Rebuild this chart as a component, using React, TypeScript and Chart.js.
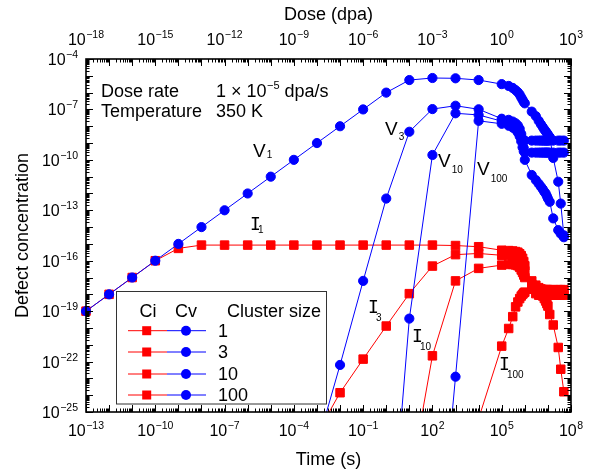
import React, { useEffect, useRef } from "react";
import { Chart, registerables } from "chart.js";

Chart.register(...registerables);

// ---------- data ----------
const TIME_S = [
  1e-13, 1e-12, 1e-11, 1e-10, 1e-9, 1e-8, 1e-7, 1e-6, 1e-5, 1e-4, 1e-3, 1e-2, 1e-1, 1e0, 1e1, 1e2, 1e3, 1e4,
  1e5, 2e5, 3e5, 4e5, 5e5, 6e5, 7e5, 8e5, 9e5, 1e6,
  2e6, 3e6, 4e6, 5e6, 6e6, 7e6, 8e6, 9e6, 1e7, 1.2e7,
  1.7e7, 2.8e7, 3.6e7, 4.9e7,
];

const CV1 = [
  1e-19, 1e-18, 1e-17, 1e-16, 1e-15, 1e-14, 1e-13, 1e-12, 1e-11, 1e-10, 1e-9, 1e-8, 1e-7, 1e-6, 5.6e-6, 7.4e-6, 7.1e-6, 5.6e-6,
  3.2e-6, 2.5e-6, 1.9e-6, 1.4e-6, 1.05e-6, 7.6e-7, 5.2e-7, 3.8e-7, 2.8e-7, 2.3e-7,
  7.4e-8, 4.0e-8, 2.1e-8, 1.3e-8, 8.9e-9, 6.3e-9, 5.0e-9, 4.0e-9, 3.2e-9, 2.3e-9,
  1.3e-10, 5.0e-12, 2.5e-13, 3.2e-15,
];
const CV3 = [
  null, null, null, null, null, null, null, null, null, null, 1e-27, 6.3e-23, 6.3e-18, 5.0e-13, 4.7e-9, 1.05e-7, 1.66e-7, 1.02e-7,
  2.8e-8, 2.4e-8, 1.9e-8, 1.5e-8, 1.1e-8, 7.1e-9, 3.5e-9, 1.6e-9, 5.0e-10, 1.0e-10,
  1.26e-11, 6.3e-12, 3.8e-12, 2.5e-12, 1.8e-12, 1.26e-12, 1.0e-12, 7.1e-13, 5.0e-13, 3.2e-13,
  3.3e-14, 6.6e-15, 4.0e-15, 2.5e-15,
];
const CV10 = [
  null, null, null, null, null, null, null, null, null, null, null, null, null, 6e-37, 3.6e-20, 1.95e-10, 5.9e-8, 4.7e-8,
  2.0e-8, 1.6e-8, 1.26e-8, 1.0e-8, 7.1e-9, 4.5e-9, 2.5e-9, 1.6e-9, 1.4e-9, 1.4e-9,
  1.4e-9, 1.4e-9, 1.4e-9, 1.4e-9, 1.4e-9, 1.4e-9, 1.4e-9, 1.4e-9, 1.4e-9, 1.4e-9,
  1.4e-9, 1.4e-9, 1.4e-9, 1.4e-9,
];
const CV100 = [
  null, null, null, null, null, null, null, null, null, null, null, null, null, null, null, 1.3e-38, 1.26e-23, 2.1e-8,
  1.4e-8, 1.07e-8, 8.3e-9, 6.3e-9, 4.2e-9, 2.5e-9, 1.26e-9, 5.6e-10, 3.2e-10, 2.7e-10,
  2.7e-10, 2.7e-10, 2.7e-10, 2.7e-10, 2.7e-10, 2.7e-10, 2.7e-10, 2.7e-10, 2.7e-10, 2.7e-10,
  2.7e-10, 2.7e-10, 2.7e-10, 2.7e-10,
];
const CI1 = [
  1e-19, 1e-18, 1e-17, 1e-16, 5.4e-16, 8.5e-16, 8.5e-16, 8.5e-16, 8.5e-16, 8.5e-16, 8.5e-16, 8.5e-16, 8.5e-16, 8.5e-16, 8.5e-16, 8.5e-16, 8.0e-16, 6.8e-16,
  4.2e-16, 4.0e-16, 3.8e-16, 3.5e-16, 3.2e-16, 2.6e-16, 2.0e-16, 1.4e-16, 8.9e-17, 5.0e-17,
  6.3e-18, 3.5e-18, 2.5e-18, 2.1e-18, 1.9e-18, 1.9e-18, 1.9e-18, 1.9e-18, 1.9e-18, 1.9e-18,
  1.9e-18, 1.9e-18, 1.9e-18, 1.9e-18,
];
const CI3 = [
  null, null, null, null, null, null, null, null, null, null, 5.0e-27, 1.4e-24, 1.4e-22, 1.3e-20, 1.1e-18, 4.8e-17, 2.3e-16, 2.7e-16,
  2.1e-16, 2.0e-16, 1.9e-16, 1.8e-16, 1.6e-16, 1.3e-16, 1.0e-16, 7.1e-17, 4.5e-17, 2.5e-17,
  4.0e-18, 2.0e-18, 1.4e-18, 1.1e-18, 7.9e-19, 5.6e-19, 4.0e-19, 2.8e-19, 2.0e-19, 6.3e-20,
  1.5e-20, 6.9e-22, 3.5e-23, 1.6e-24,
];
const CI10 = [
  null, null, null, null, null, null, null, null, null, null, null, null, null, null, 4.0e-30, 2.2e-22, 6.3e-18, 3.5e-17,
  5.5e-17, 6.0e-17, 6.0e-17, 5.6e-17, 5.0e-17, 4.0e-17, 2.8e-17, 2.0e-17, 1.4e-17, 1.0e-17,
  2.0e-18, 1.1e-18, 8.9e-19, 8.9e-19, 8.9e-19, 8.9e-19, 8.9e-19, 8.9e-19, 8.9e-19, 8.9e-19,
  8.9e-19, 8.9e-19, 8.9e-19, 8.9e-19,
];
const CI100 = [
  null, null, null, null, null, null, null, null, null, null, null, null, null, null, null, null, null, 4.0e-26,
  8.3e-22, 9.3e-21, 4.7e-20, 1.8e-19, 3.5e-19, 5.6e-19, 7.9e-19, 1.0e-18, 1.2e-18, 1.35e-18,
  2.0e-18, 1.8e-18, 1.4e-18, 1.4e-18, 1.4e-18, 1.4e-18, 1.4e-18, 1.4e-18, 1.4e-18, 1.4e-18,
  1.4e-18, 1.4e-18, 1.4e-18, 1.4e-18,
];

const TIME_MIN = 1e-13;
const TIME_MAX = 1e8;
const DOSE_MIN = 1e-18;
const DOSE_MAX = 1e3;
const CONC_MIN = 1e-25;
const CONC_MAX = 1e-4;

const TIME_LABEL_EXP = [-13, -10, -7, -4, -1, 2, 5, 8];
const DOSE_LABEL_EXP = [-18, -15, -12, -9, -6, -3, 0, 3];
const CONC_LABEL_EXP = [-25, -22, -19, -16, -13, -10, -7, -4];
const CLUSTER_SIZES = ["1", "3", "10", "100"];

const BLUE = "#0000ff";
const RED = "#ff0000";
const FONT = "'Liberation Sans', Arial, sans-serif";

const CURVE_LABELS = [
  { t: "V", s: "1", x: 253, y: 157, sy: 1 },
  { t: "V", s: "3", x: 385, y: 135, sy: 5 },
  { t: "V", s: "10", x: 438, y: 167, sy: 6 },
  { t: "V", s: "100", x: 477, y: 175, sy: 7 },
  { t: "I", s: "1", x: 252, y: 230, sy: 3 },
  { t: "I", s: "3", x: 370, y: 313, sy: 8 },
  { t: "I", s: "10", x: 414, y: 342, sy: 8 },
  { t: "I", s: "100", x: 501, y: 370, sy: 8 },
];

function toPoints(vals: (number | null)[]) {
  const out: { x: number; y: number }[] = [];
  TIME_S.forEach((t, i) => {
    const v = vals[i];
    if (v != null) out.push({ x: t, y: v });
  });
  return out;
}

function blueSet(label: string, vals: (number | null)[]) {
  return {
    label,
    data: toPoints(vals),
    borderColor: BLUE,
    backgroundColor: BLUE,
    borderWidth: 1,
    pointStyle: "circle",
    pointRadius: 4.6,
    pointBorderWidth: 1,
    pointBorderColor: BLUE,
    pointBackgroundColor: BLUE,
    tension: 0,
    fill: false,
    clip: { left: 8, right: 8, top: 0, bottom: 0 },
  };
}
function redSet(label: string, vals: (number | null)[]) {
  return {
    label,
    data: toPoints(vals),
    borderColor: RED,
    backgroundColor: RED,
    borderWidth: 1,
    pointStyle: "rect",
    pointRadius: 6,
    pointBorderWidth: 1,
    pointBorderColor: RED,
    pointBackgroundColor: RED,
    tension: 0,
    fill: false,
    clip: { left: 8, right: 8, top: 0, bottom: 0 },
  };
}

function drawPow(
  ctx: CanvasRenderingContext2D,
  base: string,
  exp: string,
  x: number,
  y: number,
  align: "left" | "center" | "right",
  baseSize: number,
  expSize: number,
  rise: number
) {
  ctx.font = `${baseSize}px ${FONT}`;
  const wb = ctx.measureText(base).width;
  ctx.font = `${expSize}px ${FONT}`;
  const we = ctx.measureText(exp).width;
  const total = wb + 0.5 + we;
  let sx = x;
  if (align === "center") sx = x - total / 2;
  else if (align === "right") sx = x - total;
  ctx.textAlign = "left";
  ctx.textBaseline = "alphabetic";
  ctx.font = `${baseSize}px ${FONT}`;
  ctx.fillText(base, sx, y);
  ctx.font = `${expSize}px ${FONT}`;
  ctx.fillText(exp, sx + wb + 0.5, y - rise);
  return sx + total;
}

function expText(e: number) {
  return e < 0 ? "\u2212" + String(-e) : String(e);
}

const decorPlugin = {
  id: "decor",
  afterDatasetsDraw(chart: any) {
    const { ctx, chartArea: a, scales } = chart;
    const xs = scales.x;
    const x2 = scales.x2;
    const ys = scales.y;
    ctx.save();

    // ticks
    ctx.strokeStyle = "#000";
    ctx.lineWidth = 1;
    const major = 7;
    const minor = 3.5;
    ctx.beginPath();
    for (let k = -13; k <= 8; k++) {
      for (let m = 1; m <= 9; m++) {
        const v = m * Math.pow(10, k);
        if (v > TIME_MAX * 1.0001) break;
        const px = Math.round(xs.getPixelForValue(v)) + 0.5;
        const len = m === 1 ? major : minor;
        ctx.moveTo(px, a.bottom);
        ctx.lineTo(px, a.bottom - len);
      }
    }
    for (let k = -18; k <= 3; k++) {
      for (let m = 1; m <= 9; m++) {
        const v = m * Math.pow(10, k);
        if (v > DOSE_MAX * 1.0001) break;
        const px = Math.round(x2.getPixelForValue(v)) + 0.5;
        const len = m === 1 ? major : minor;
        ctx.moveTo(px, a.top);
        ctx.lineTo(px, a.top + len);
      }
    }
    for (let k = -25; k <= -4; k++) {
      for (let m = 1; m <= 9; m++) {
        const v = m * Math.pow(10, k);
        if (v > CONC_MAX * 1.0001) break;
        const py = Math.round(ys.getPixelForValue(v)) + 0.5;
        const len = m === 1 ? major : minor;
        ctx.moveTo(a.left, py);
        ctx.lineTo(a.left + len, py);
        ctx.moveTo(a.right, py);
        ctx.lineTo(a.right - len, py);
      }
    }
    ctx.stroke();

    // frame
    ctx.lineWidth = 1.6;
    ctx.strokeRect(a.left, a.top, a.right - a.left, a.bottom - a.top);

    ctx.fillStyle = "#000";
    // tick labels
    TIME_LABEL_EXP.forEach((e) => {
      const px = xs.getPixelForValue(Math.pow(10, e));
      drawPow(ctx, "10", expText(e), px, 436, "center", 16, 10.5, 7);
    });
    DOSE_LABEL_EXP.forEach((e) => {
      const px = x2.getPixelForValue(Math.pow(10, e));
      drawPow(ctx, "10", expText(e), px, 45, "center", 16, 10.5, 7);
    });
    CONC_LABEL_EXP.forEach((e) => {
      const py = ys.getPixelForValue(Math.pow(10, e));
      drawPow(ctx, "10", expText(e), 78, py + 6, "right", 16, 10.5, 7);
    });

    // axis titles
    ctx.font = `18px ${FONT}`;
    ctx.textAlign = "center";
    ctx.textBaseline = "alphabetic";
    ctx.fillText("Time (s)", (a.left + a.right) / 2, 465);
    ctx.fillText("Dose (dpa)", (a.left + a.right) / 2, 20);
    ctx.save();
    ctx.translate(23, (a.top + a.bottom) / 2);
    ctx.rotate(-Math.PI / 2);
    ctx.textBaseline = "middle";
    ctx.fillText("Defect concentration", 0, 0);
    ctx.restore();

    // condition annotation
    ctx.textAlign = "left";
    ctx.textBaseline = "alphabetic";
    ctx.font = `18px ${FONT}`;
    ctx.fillText("Dose rate", 101, 97);
    ctx.fillText("Temperature", 101, 117);
    ctx.fillText("350 K", 216, 117);
    const endX = drawPow(ctx, "1 \u00d7 10", "\u22125", 216, 97, "left", 18, 11, 8);
    ctx.font = `18px ${FONT}`;
    ctx.textAlign = "left";
    ctx.fillText(" dpa/s", endX, 97);

    // curve labels
    CURVE_LABELS.forEach((l) => {
      ctx.textAlign = "left";
      ctx.textBaseline = "alphabetic";
      if (l.t === "I") {
        ctx.font = `18px 'DejaVu Sans Mono', monospace`;
        ctx.fillText("I", l.x - 2, l.y);
        ctx.font = `10px ${FONT}`;
        ctx.fillText(l.s, l.x + 6, l.y + l.sy);
      } else {
        ctx.font = `19px ${FONT}`;
        const w = ctx.measureText("V").width;
        ctx.fillText("V", l.x, l.y);
        ctx.font = `10px ${FONT}`;
        ctx.fillText(l.s, l.x + w + 1, l.y + l.sy);
      }
    });

    // legend box
    const bx = 116.5, by = 291.5, bw = 210, bh = 112.5;
    ctx.fillStyle = "#fff";
    ctx.fillRect(bx, by, bw, bh);
    ctx.strokeStyle = "#333";
    ctx.lineWidth = 1;
    ctx.strokeRect(bx, by, bw, bh);
    ctx.fillStyle = "#000";
    ctx.font = `18px ${FONT}`;
    ctx.textBaseline = "alphabetic";
    ctx.textAlign = "center";
    ctx.fillText("Ci", 148, 317);
    ctx.fillText("Cv", 186, 317);
    ctx.textAlign = "left";
    ctx.fillText("Cluster size", 227, 317);
    const rows = [330.7, 352, 374, 395];
    CLUSTER_SIZES.forEach((s, i) => {
      const ry = rows[i];
      ctx.lineWidth = 1;
      ctx.strokeStyle = RED;
      ctx.beginPath();
      ctx.moveTo(128, ry);
      ctx.lineTo(167, ry);
      ctx.stroke();
      ctx.strokeStyle = BLUE;
      ctx.beginPath();
      ctx.moveTo(167, ry);
      ctx.lineTo(206, ry);
      ctx.stroke();
      ctx.fillStyle = RED;
      ctx.fillRect(146.7 - 4.5, ry - 4.5, 9, 9);
      ctx.fillStyle = BLUE;
      ctx.beginPath();
      ctx.arc(186, ry, 5, 0, Math.PI * 2);
      ctx.fill();
      ctx.fillStyle = "#000";
      ctx.font = `18px ${FONT}`;
      ctx.textBaseline = "middle";
      ctx.fillText(s, 218, ry + 1);
    });

    ctx.restore();
  },
};

export default function App() {
  const ref = useRef<HTMLCanvasElement>(null);
  useEffect(() => {
    if (!ref.current) return;
    const chart = new Chart(ref.current, {
      type: "line",
      data: {
        datasets: [
          blueSet("V1", CV1),
          blueSet("V3", CV3),
          blueSet("V10", CV10),
          blueSet("V100", CV100),
          redSet("I1", CI1),
          redSet("I3", CI3),
          redSet("I10", CI10),
          redSet("I100", CI100),
        ] as any,
      },
      options: {
        responsive: false,
        devicePixelRatio: 1,
        animation: false,
        layout: { padding: { left: 86, right: 22, top: 59, bottom: 58 } },
        plugins: {
          legend: { display: false },
          tooltip: { enabled: false },
        },
        scales: {
          x: { type: "logarithmic", min: TIME_MIN, max: TIME_MAX, display: false },
          x2: { type: "logarithmic", position: "top", min: DOSE_MIN, max: DOSE_MAX, display: false },
          y: { type: "logarithmic", min: CONC_MIN, max: CONC_MAX, display: false },
        },
      } as any,
      plugins: [decorPlugin as any],
    });
    return () => chart.destroy();
  }, []);
  return (
    <div style={{ position: "absolute", left: 0, top: 0, width: 593, height: 470, background: "#fff" }}>
      <canvas ref={ref} width={593} height={470} style={{ display: "block", width: 593, height: 470 }} />
    </div>
  );
}
